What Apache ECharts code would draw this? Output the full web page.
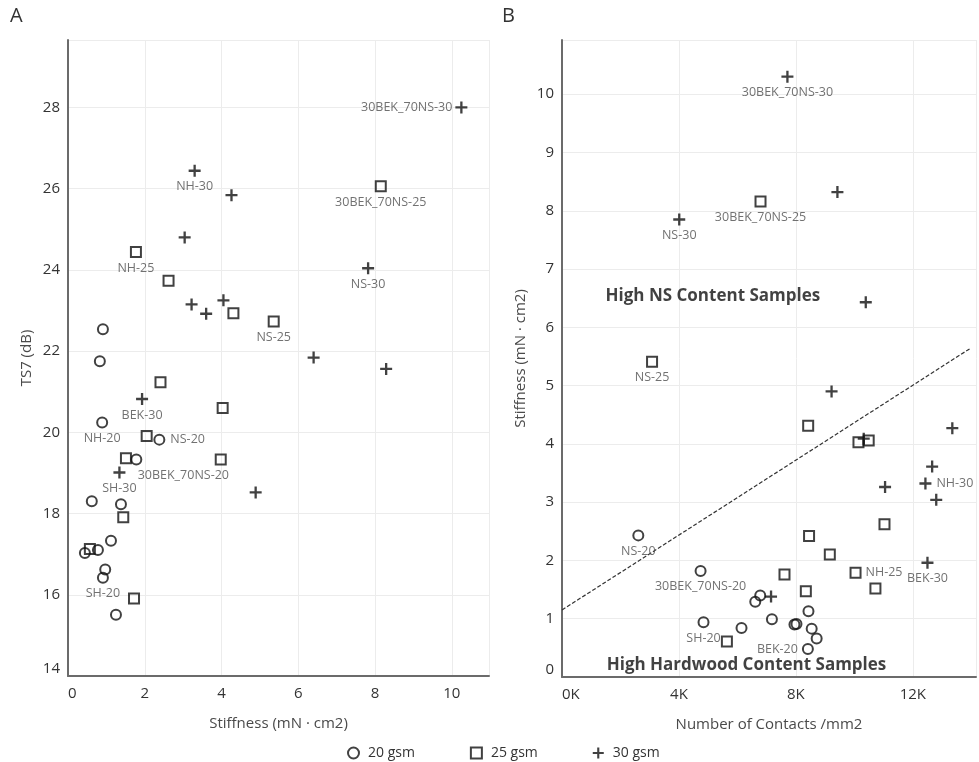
<!DOCTYPE html>
<html><head><meta charset="utf-8">
<script src="https://cdn.jsdelivr.net/npm/echarts@6/dist/echarts.min.js"></script>
<style>html,body{margin:0;padding:0;background:#fff}#c{width:979px;height:762px}</style>
</head><body><div id="c"></div>
<script>
// ---------- DATA ----------
const seriesNames = ['20 gsm', '25 gsm', '30 gsm'];

// Panel A: [Stiffness (mN·cm2), TS7 (dB)]
const a20 = [[0.91,22.54],[0.83,21.75],[0.89,20.24],[2.38,19.82],[1.78,19.33],[0.62,18.30],[1.38,18.23],[1.12,17.33],[0.44,17.03],[0.78,17.10],[0.97,16.62],[0.91,16.42],[1.25,15.51]];
const a20Labels = ['','','NH-20','NS-20','30BEK_70NS-20','','','','','','','SH-20',''];
const a25 = [[8.15,26.06],[1.77,24.44],[2.62,23.73],[4.31,22.93],[5.36,22.73],[2.41,21.23],[4.03,20.60],[2.05,19.91],[1.51,19.36],[3.98,19.33],[1.44,17.91],[0.57,17.13],[1.72,15.91]];
const a25Labels = ['30BEK_70NS-25','NH-25','','','NS-25','','','','','','','',''];
const a30 = [[10.25,28.00],[3.30,26.44],[4.26,25.84],[3.04,24.80],[7.82,24.04],[3.22,23.15],[3.60,22.92],[4.05,23.25],[6.40,21.84],[8.29,21.56],[1.93,20.82],[1.34,19.01],[4.89,18.52]];
const a30Labels = ['30BEK_70NS-30','NH-30','','','NS-30','','','','','','BEK-30','SH-30',''];

// Panel B: [Number of contacts /mm2, Stiffness (mN·cm2)]
const b20 = [[2610,2.43],[4740,1.82],[6780,1.40],[6610,1.29],[8430,1.13],[7180,0.99],[4840,0.94],[7950,0.90],[8020,0.91],[6140,0.84],[8540,0.83],[8710,0.66],[8410,0.48]];
const b20Labels = ['NS-20','30BEK_70NS-20','','','','','SH-20','','','','','','BEK-20'];
const b25 = [[6790,8.16],[3080,5.41],[8420,4.31],[10140,4.03],[10490,4.06],[11030,2.62],[8450,2.42],[9160,2.10],[7610,1.76],[10040,1.79],[10720,1.52],[8340,1.47],[5640,0.61]];
const b25Labels = ['30BEK_70NS-25','NS-25','','','','','','','','NH-25','','',''];
const b30 = [[7710,10.30],[9420,8.32],[4010,7.85],[10390,6.43],[9220,4.90],[13350,4.27],[10320,4.09],[12660,3.61],[12430,3.32],[11050,3.26],[12800,3.04],[12500,1.96],[7150,1.38]];
const b30Labels = ['30BEK_70NS-30','','NS-30','','','','','','NH-30','','','BEK-30',''];

// dashed separating line in panel B (end points)
const trendB = [[0,1.15],[13970,5.64]];

// annotation texts in panel B (data anchors)
const notesB = [
  {text:'High NS Content Samples', at:[5160,6.53]},
  {text:'High Hardwood Content Samples', at:[6310,0.21]}
];

// ---------- STYLE ----------
const FONT = 'Open Sans';
const INK = '#111';
const plusPath = 'path://M5.25,0H7.75V5.25H13V7.75H7.75V13H5.25V7.75H0V5.25H5.25Z';
const markerStyles = {
  '20 gsm': {symbol:'circle', symbolSize:10, itemStyle:{color:'rgba(255,255,255,0)', borderColor:INK, borderWidth:2}},
  '25 gsm': {symbol:'rect', symbolSize:10, itemStyle:{color:'rgba(255,255,255,0)', borderColor:INK, borderWidth:2}},
  '30 gsm': {symbol:plusPath, symbolSize:12, itemStyle:{color:INK, borderWidth:0}}
};
const placeA = {
  'NS-20': {position:'right', distance:5},
  '30BEK_70NS-20': {position:'bottom', distance:3.5, offset:[47,0]},
  '30BEK_70NS-30': {position:'left', distance:3}
};
const placeB = {
  'NH-30': {position:'right', distance:5},
  'NH-25': {position:'right', distance:4},
  'BEK-20': {position:'left', distance:4}
};

function makeSeries(name, pts, labels, place, axisIdx) {
  const st = markerStyles[name];
  return {
    name, type:'scatter', xAxisIndex:axisIdx, yAxisIndex:axisIdx,
    symbol:st.symbol, symbolSize:st.symbolSize, itemStyle:st.itemStyle,
    z:3,
    emphasis:{disabled:true},
    label:{show:true, fontFamily:FONT, fontSize:12.5, color:'#4d4d4d',
      formatter:p => labels[p.dataIndex]},
    data: pts.map((pt, i) => {
      const lb = labels[i];
      const pl = place[lb] || {position:'bottom', distance:3.5};
      return {value:pt, label:Object.assign({show: lb !== ''}, pl)};
    })
  };
}

const axisLineStyle = {show:true, onZero:false, lineStyle:{color:'#6b6b6b', width:2}};
const splitLineStyle = {show:true, lineStyle:{color:'#ececec', width:1}};
const tickLabel = {fontFamily:FONT, fontSize:15, color:'#333'};
const nameStyle = {fontFamily:FONT, fontSize:15, color:'#4a4a4a'};

const chart = echarts.init(document.getElementById('c'), null, {renderer:'canvas'});
const option = {
  backgroundColor:'#fff',
  animation:false,
  grid:[
    {left:68, top:40, width:421, height:636},
    {left:562, top:40, width:417, height:637}
  ],
  xAxis:[
    {type:'value', gridIndex:0, min:0, max:10.97, interval:2,
     name:'Stiffness (mN · cm2)', nameLocation:'middle', nameGap:40, nameTextStyle:nameStyle,
     axisLine:axisLineStyle, axisTick:{show:false}, splitLine:splitLineStyle,
     axisLabel:Object.assign({margin:10, alignMinLabel:'left',
       formatter:v => (Math.abs(v % 2) < 1e-9 ? String(v) : '')}, tickLabel)},
    {type:'value', gridIndex:1, min:0, max:14160, interval:4000,
     name:'Number of Contacts /mm2', nameLocation:'middle', nameGap:40, nameTextStyle:nameStyle,
     axisLine:axisLineStyle, axisTick:{show:false}, splitLine:splitLineStyle,
     axisLabel:Object.assign({margin:10, alignMinLabel:'left',
       formatter:v => (v % 4000 === 0 ? (v/1000) + 'K' : '')}, tickLabel)}
  ],
  yAxis:[
    {type:'value', gridIndex:0, min:14, max:29.66, interval:2,
     name:'TS7 (dB)', nameLocation:'middle', nameGap:34, nameTextStyle:nameStyle,
     axisLine:axisLineStyle, axisTick:{show:false}, splitLine:splitLineStyle,
     axisLabel:Object.assign({margin:8, verticalAlignMinLabel:'bottom',
       formatter:v => (Math.abs(v % 2) < 1e-9 ? String(v) : '')}, tickLabel)},
    {type:'value', gridIndex:1, min:0, max:10.93, interval:1,
     name:'Stiffness (mN · cm2)', nameLocation:'middle', nameGap:34, nameTextStyle:nameStyle,
     axisLine:axisLineStyle, axisTick:{show:false}, splitLine:splitLineStyle,
     axisLabel:Object.assign({margin:8, verticalAlignMinLabel:'bottom',
       formatter:v => (Number.isInteger(v) ? String(v) : '')}, tickLabel)}
  ],
  legend:{
    left:342, top:741, itemGap:55, itemWidth:11, itemHeight:11,
    textStyle:{fontFamily:FONT, fontSize:14, color:'#333', padding:[0,0,0,4]},
    selectedMode:false,
    data:seriesNames.map(n => ({name:n, icon:markerStyles[n].symbol, itemStyle:markerStyles[n].itemStyle}))
  },
  graphic:[
    {type:'text', left:10, top:6, style:{text:'A', fontFamily:FONT, fontSize:20, fill:'#333'}},
    {type:'text', left:502, top:6, style:{text:'B', fontFamily:FONT, fontSize:20, fill:'#333'}}
  ],
  series:[
    makeSeries('20 gsm', a20, a20Labels, placeA, 0),
    makeSeries('25 gsm', a25, a25Labels, placeA, 0),
    makeSeries('30 gsm', a30, a30Labels, placeA, 0),
    {name:'trend', type:'line', xAxisIndex:1, yAxisIndex:1, data:trendB, symbol:'none', silent:true,
     lineStyle:{color:'#333', width:1.2, type:[4,2]}, z:2},
    makeSeries('20 gsm', b20, b20Labels, placeB, 1),
    makeSeries('25 gsm', b25, b25Labels, placeB, 1),
    makeSeries('30 gsm', b30, b30Labels, placeB, 1),
    {name:'notes', type:'scatter', xAxisIndex:1, yAxisIndex:1, silent:true, symbolSize:1,
     itemStyle:{color:'rgba(0,0,0,0)'}, z:4,
     label:{show:true, position:'inside', fontFamily:FONT, fontWeight:'bold', fontSize:17, color:'#111',
       formatter:p => notesB[p.dataIndex].text},
     data:notesB.map(n => n.at)}
  ]
};
chart.setOption(option);
</script>
</body></html>
